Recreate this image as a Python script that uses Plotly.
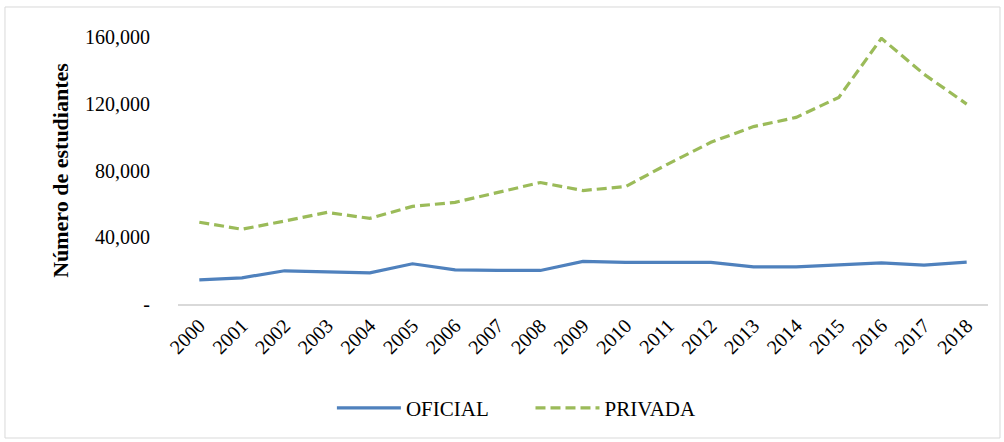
import plotly.graph_objects as go

years = [str(y) for y in range(2000, 2019)]
oficial = [14500, 15700, 19900, 19100, 18700, 24100, 20500, 20100, 20100, 25500,
           24900, 24900, 24900, 22300, 22300, 23500, 24700, 23300, 25100]
privada = [49000, 44800, 49700, 54900, 51300, 58500, 60900, 67000, 72800, 68000,
           70400, 84000, 96900, 106300, 111800, 123800, 159200, 137700, 119800]

y_ticks = [0, 40000, 80000, 120000, 160000]
y_labels = ["-", "40,000", "80,000", "120,000", "160,000"]

font_serif = "Liberation Serif, Times New Roman, serif"
gap = "\u00a0" * 7  # extra space between the two legend entries

fig = go.Figure()
fig.add_trace(go.Scatter(x=years, y=oficial, name="OFICIAL" + gap, mode="lines",
                         line=dict(color="#4F81BD", width=3.2)))
fig.add_trace(go.Scatter(x=years, y=privada, name="PRIVADA", mode="lines",
                         line=dict(color="#9BBB59", width=3.2, dash="10px,5px")))

fig.update_layout(
    width=1004, height=442, autosize=False,
    margin=dict(l=178, r=16, t=37, b=138),
    paper_bgcolor="white", plot_bgcolor="white",
    font=dict(family=font_serif, size=20, color="#000000"),
    showlegend=True,
    legend=dict(orientation="h", x=0.19, xanchor="left", y=-0.39, yanchor="middle",
                font=dict(size=21), itemwidth=64, tracegroupgap=0),
    shapes=[dict(type="rect", xref="paper", yref="paper",
                 x0=-0.2136, x1=1.0148, y0=-0.5019, y1=1.1124,
                 line=dict(color="#D9D9D9", width=1), fillcolor="rgba(0,0,0,0)")],
)
fig.update_xaxes(type="category", tickangle=-45, showgrid=False,
                 showline=True, linecolor="#D9D9D9", linewidth=2,
                 ticks="", tickfont=dict(size=20), range=[-0.5, 18.5])
fig.update_yaxes(range=[0, 160000], tickvals=y_ticks, ticktext=y_labels,
                 showgrid=False, zeroline=False, showline=False, ticks="",
                 tickfont=dict(size=20), ticklabelstandoff=27,
                 title=dict(text="<b>Número de estudiantes</b>", font=dict(size=22), standoff=10))

# page body margin off so the figure sits at the window's top-left corner
fig.write_html("out.html", config={"displayModeBar": False},
               post_script="document.body.style.margin='0';document.body.style.overflow='hidden';")
